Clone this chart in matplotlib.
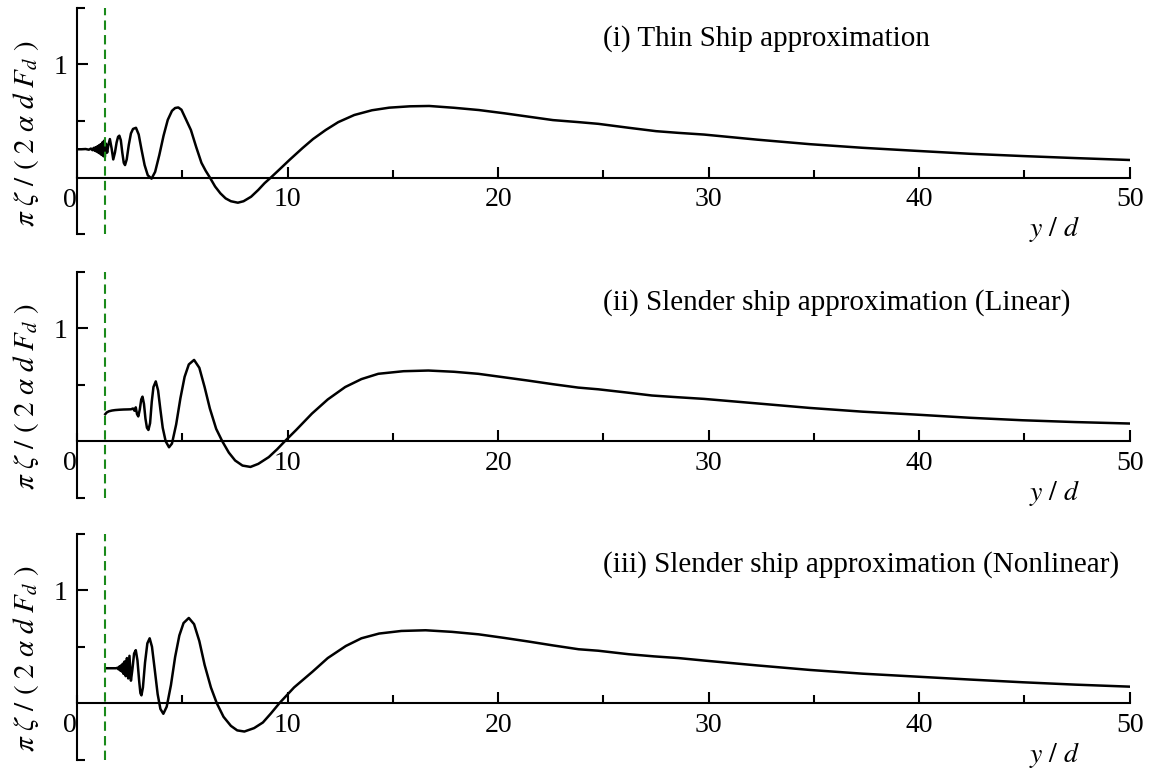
import matplotlib
matplotlib.use("Agg")
import matplotlib.pyplot as plt
from matplotlib.ticker import MultipleLocator

plt.rcParams["font.family"] = ["Liberation Serif", "DejaVu Serif"]
plt.rcParams["mathtext.fontset"] = "stix"

# (i) thin ship
x_thin = [0, 0.2, 0.4, 0.55, 0.65, 0.72, 0.78, 0.83, 0.87, 0.91, 0.95, 0.99, 1.03, 1.07,
          1.11, 1.15, 1.19, 1.23, 1.27, 1.31, 1.36, 1.42, 1.48, 1.55, 1.63, 1.71, 1.79, 1.87,
          1.94, 2.0, 2.07, 2.14, 2.21, 2.27, 2.35, 2.45, 2.55, 2.65, 2.79, 2.92, 3.05, 3.2,
          3.35, 3.53, 3.7, 3.9, 4.1, 4.3, 4.5, 4.65, 4.8, 4.95, 5.15, 5.4, 5.65, 5.9, 6.1,
          6.3, 6.55, 6.8, 7.05, 7.3, 7.63, 7.9, 8.26, 8.6, 8.9, 9.2, 9.6, 10.08, 10.7, 11.2,
          11.8, 12.4, 13.16, 14.0, 14.82, 15.8, 16.72, 17.9, 19.08, 20.3, 21.45, 22.6, 23.82,
          24.75, 26.2, 27.5, 28.56, 29.78, 32.3, 34.8, 37.3, 39.85, 42.4, 44.9, 47.4, 50]
y_thin = [0.25, 0.25, 0.252, 0.246, 0.256, 0.242, 0.262, 0.236, 0.268, 0.23, 0.275, 0.222,
          0.285, 0.212, 0.295, 0.2, 0.31, 0.19, 0.325, 0.18, 0.30, 0.22, 0.29, 0.34, 0.26,
          0.16, 0.22, 0.31, 0.36, 0.37, 0.33, 0.22, 0.13, 0.11, 0.16, 0.29, 0.39, 0.43, 0.44,
          0.38, 0.25, 0.11, 0.02, -0.01, 0.05, 0.2, 0.37, 0.51, 0.59, 0.615, 0.62, 0.6, 0.52,
          0.42, 0.27, 0.13, 0.06, 0.0, -0.08, -0.14, -0.185, -0.21, -0.223, -0.21, -0.17,
          -0.11, -0.05, 0.0, 0.07, 0.155, 0.26, 0.34, 0.42, 0.49, 0.553, 0.595, 0.618, 0.63,
          0.633, 0.617, 0.597, 0.568, 0.538, 0.508, 0.49, 0.475, 0.44, 0.41, 0.395, 0.38,
          0.335, 0.295, 0.263, 0.236, 0.21, 0.19, 0.172, 0.155]

# (ii) slender ship, linear
x_lin = [1.33, 1.4, 1.5, 1.65, 1.8, 2.0, 2.2, 2.4, 2.55, 2.65, 2.72, 2.78, 2.84, 2.9, 2.97,
         3.04, 3.1, 3.17, 3.24, 3.31, 3.38, 3.46, 3.54, 3.62, 3.73, 3.84, 3.95, 4.06, 4.2,
         4.36, 4.5, 4.7, 4.9, 5.1, 5.3, 5.55, 5.8, 6.05, 6.3, 6.6, 6.89, 7.2, 7.5, 7.85, 8.23,
         8.6, 9.1, 9.5, 9.86, 10.4, 11.15, 11.9, 12.73, 13.5, 14.3, 15.5, 16.68, 17.9, 19.05,
         20.2, 21.42, 22.6, 23.8, 24.75, 26.17, 27.3, 28.5, 29.78, 32.3, 34.8, 37.3, 39.85,
         42.4, 44.9, 47.4, 50]
y_lin = [0.24, 0.255, 0.265, 0.272, 0.276, 0.279, 0.281, 0.282, 0.283, 0.29, 0.27, 0.3, 0.24,
         0.22, 0.28, 0.37, 0.395, 0.33, 0.2, 0.12, 0.10, 0.16, 0.35, 0.48, 0.53, 0.45, 0.28,
         0.12, 0.0, -0.053, -0.02, 0.15, 0.38, 0.57, 0.68, 0.72, 0.65, 0.48, 0.29, 0.11, 0.0,
         -0.1, -0.17, -0.215, -0.227, -0.2, -0.14, -0.07, 0.0, 0.1, 0.245, 0.37, 0.48, 0.55,
         0.597, 0.62, 0.626, 0.615, 0.597, 0.568, 0.537, 0.505, 0.475, 0.46, 0.43, 0.405,
         0.39, 0.375, 0.335, 0.295, 0.262, 0.236, 0.208, 0.186, 0.17, 0.157]

# (iii) slender ship, nonlinear
x_nonlin = [1.33, 1.5, 1.7, 1.85, 1.92, 1.96, 2.0, 2.04, 2.08, 2.12, 2.16, 2.2, 2.25, 2.3,
            2.36, 2.42, 2.48, 2.55, 2.62, 2.7, 2.78, 2.86, 2.94, 3.0, 3.05, 3.12, 3.22, 3.33,
            3.44, 3.55, 3.68, 3.82, 3.95, 4.09, 4.25, 4.45, 4.65, 4.85, 5.05, 5.3, 5.55, 5.8,
            6.05, 6.35, 6.63, 6.95, 7.3, 7.6, 7.94, 8.4, 8.82, 9.2, 9.6, 10.3, 11.18, 11.9,
            12.76, 13.5, 14.34, 15.4, 16.55, 17.8, 19.07, 20.3, 21.45, 22.6, 23.82, 24.75,
            26.2, 27.4, 28.56, 29.78, 32.3, 34.8, 37.3, 39.85, 42.4, 44.9, 47.4, 50]
y_nonlin = [0.31, 0.31, 0.31, 0.31, 0.315, 0.3, 0.325, 0.29, 0.335, 0.28, 0.35, 0.26, 0.37,
            0.24, 0.4, 0.22, 0.42, 0.2, 0.3, 0.44, 0.47, 0.38, 0.2, 0.09, 0.07, 0.14, 0.36,
            0.53, 0.575, 0.5, 0.3, 0.08, -0.05, -0.093, -0.03, 0.16, 0.41, 0.6, 0.71, 0.755,
            0.7, 0.55, 0.34, 0.14, 0.0, -0.12, -0.2, -0.24, -0.25, -0.22, -0.17, -0.09, 0.0,
            0.14, 0.28, 0.4, 0.507, 0.575, 0.617, 0.64, 0.646, 0.632, 0.61, 0.578, 0.546,
            0.512, 0.478, 0.465, 0.434, 0.415, 0.4, 0.378, 0.335, 0.295, 0.262, 0.236, 0.21,
            0.186, 0.165, 0.147]

titles = ["(i) Thin Ship approximation",
          "(ii) Slender ship approximation (Linear)",
          "(iii) Slender ship approximation (Nonlinear)"]
x_ticks = [10, 20, 30, 40, 50]
ship_edge = 1.33

curves = [(x_thin, y_thin), (x_lin, y_lin), (x_nonlin, y_nonlin)]
bottoms = [0.6957, 0.3527, 0.0120]

fig = plt.figure(figsize=(11.53, 7.69), dpi=100)

for (xs, ys), title, b in zip(curves, titles, bottoms):
    ax = fig.add_axes([0.067, b, 0.9128, 0.2939])
    ax.plot(xs, ys, color="black", lw=1.8)
    ax.axvline(ship_edge, color="#1a8a1a", ls=(0, (4.5, 2.5)), lw=1.5)

    ax.set_xlim(0, 50)
    ax.set_ylim(-0.5, 1.5)
    ax.spines["top"].set_visible(False)
    ax.spines["right"].set_visible(False)
    ax.spines["bottom"].set_position(("data", 0))
    ax.spines["bottom"].set_linewidth(1.5)
    ax.spines["left"].set_linewidth(1.5)

    ax.set_xticks(x_ticks)
    ax.xaxis.set_minor_locator(MultipleLocator(5))
    ax.set_yticks([1])
    ax.set_yticks([-0.5, 0.5, 1.5], minor=True)
    ax.tick_params(which="major", direction="in", length=8, width=1.5, labelsize=20)
    ax.tick_params(which="minor", direction="in", length=6, width=1.5)
    ax.tick_params(axis="x", pad=7)
    ax.tick_params(axis="y", pad=7)

    ax.text(-0.35, -0.2, "0", ha="center", va="center", fontsize=20)
    ax.text(25, 1.23, title, ha="left", va="center", fontsize=21)
    ax.text(46.4, -0.46, r"$y\ /\ d$", ha="center", va="center", fontsize=20)
    ax.set_ylabel(r"$\pi\ \zeta\ /\ (\ 2\ \alpha\ d\ F_d\ )$", fontsize=21)
    ax.yaxis.set_label_coords(-0.034, 0.445)

fig.savefig("out.png", dpi=100)
